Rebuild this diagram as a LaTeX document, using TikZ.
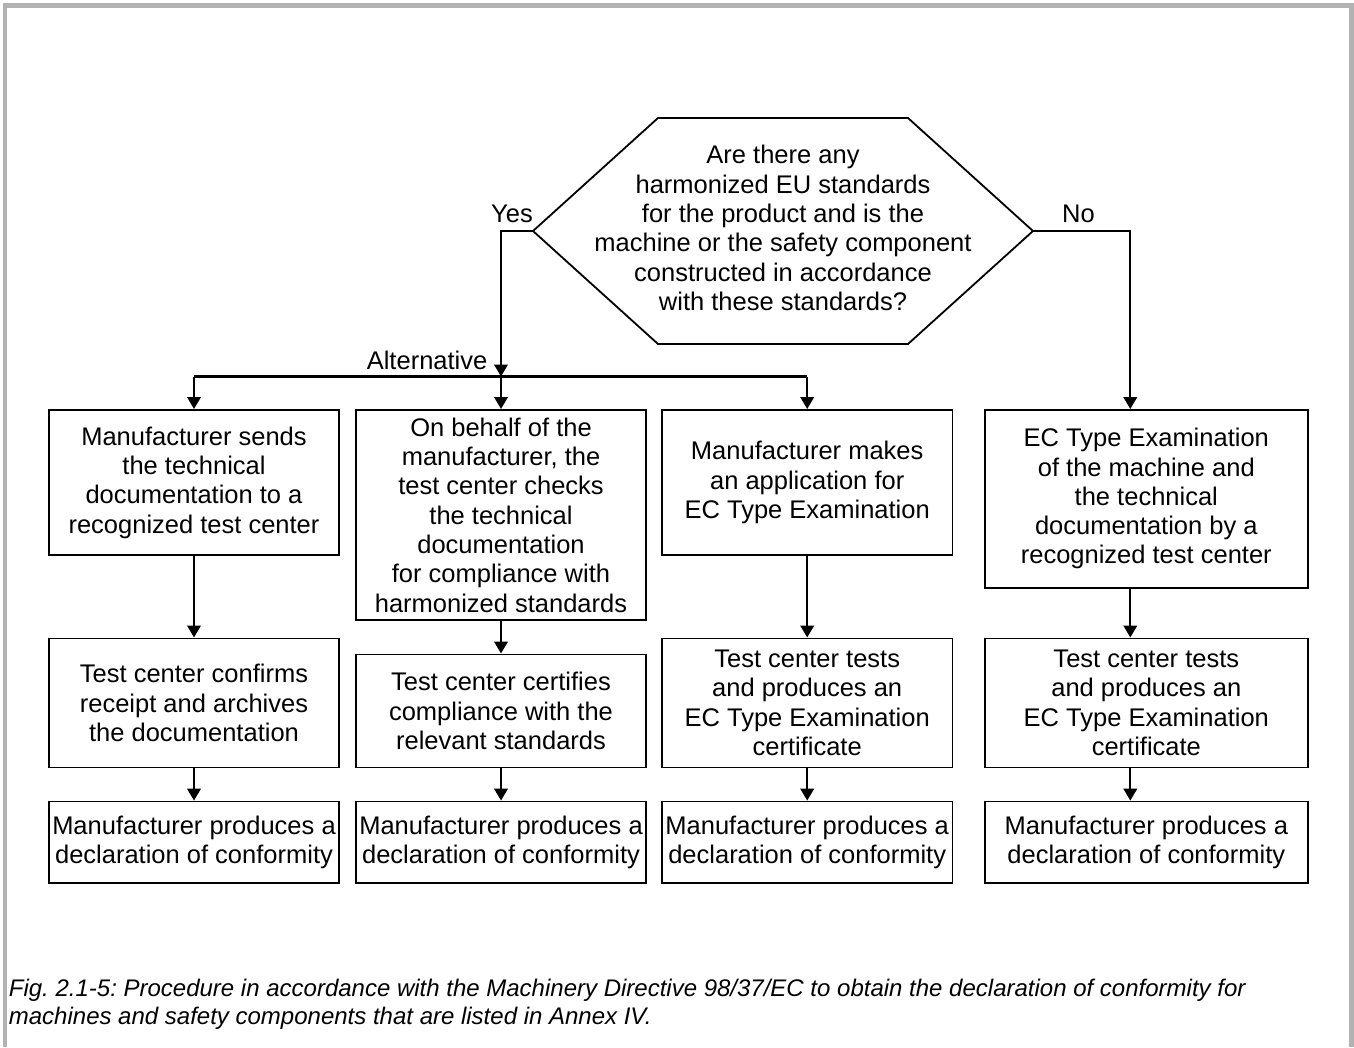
\documentclass[tikz,border=0pt]{standalone}
\usepackage{fontspec}
\setmainfont{Liberation Sans}
\usetikzlibrary{arrows.meta, positioning, calc}
\frenchspacing

\begin{document}
\begin{tikzpicture}[
  x=1pt, y=-1pt,
  >={Triangle[length=12pt,width=13.5pt]},
  txt/.style={
    align=center,
    font=\fontsize{25.5}{29.3}\selectfont
  },
  base/.style={
    txt, rectangle, draw,
    inner sep=2pt,
    line width=1.8pt
  },
  box/.style={base, minimum width=290.6pt},
  wide/.style={base, minimum width=323pt},
  decl/.style={base, minimum height=81.3pt},
  lbl/.style={txt, inner sep=0pt},
  line/.style={line width=2.1pt, black},
  arrow/.style={->, line width=2.3pt, black}
]
\useasboundingbox (0,0) rectangle (1354,1047);

%% Frame
\draw[line width=4.5pt, black!30] (5,1047) -- (5,5.3) -- (1351.7,5.3) -- (1351.7,1047);

%% Question
\node[lbl] (q) at (783,228) {%
  Are there any\\
  harmonized EU standards\\
  for the product and is the\\
  machine or the safety component\\
  constructed in accordance\\
  with these standards?
};
\draw[line, line width=1.8pt] (q.center) ++(-125,-110) -- ++(250,0)
  -- ++(125,113) coordinate (qe) -- ++(-125,113) -- ++(-250,0)
  -- ++(-125,-113) coordinate (qw) -- cycle;

%% Row 1
\node[box, anchor=north, minimum height=145.3pt] (s1) at (194,409) {%
  Manufacturer sends\\
  the technical\\
  documentation to a\\
  recognized test center
};
\node[box, anchor=north, minimum height=210.3pt] (s2) at (501,409) {%
  On behalf of the\\
  manufacturer, the\\
  test center checks\\
  the technical\\
  documentation\\
  for compliance with\\
  harmonized standards
};
\node[box, anchor=north, minimum height=145.3pt] (s3) at (807.2,409) {%
  Manufacturer makes\\
  an application for\\
  EC Type Examination
};
\node[wide, anchor=north, minimum height=177.7pt] (s4) at (1146.3,409) {%
  EC Type Examination\\
  of the machine and\\
  the technical\\
  documentation by a\\
  recognized test center
};

%% Row 2
\node[box, minimum height=129pt, below=81.4pt of s1] (t1) {%
  Test center confirms\\
  receipt and archives\\
  the documentation
};
\node[box, minimum height=113pt, below=32.4pt of s2] (t2) {%
  Test center certifies\\
  compliance with the\\
  relevant standards
};
\node[box, minimum height=129pt, below=81.4pt of s3] (t3) {%
  Test center tests\\
  and produces an\\
  EC Type Examination\\
  certificate
};
\node[wide, minimum height=129pt, below=49pt of s4] (t4) {%
  Test center tests\\
  and produces an\\
  EC Type Examination\\
  certificate
};

%% Row 3
\node[box, decl, below=32.3pt of t1] (m1) {Manufacturer produces a\\declaration of conformity};
\node[box, decl, below=32.3pt of t2] (m2) {Manufacturer produces a\\declaration of conformity};
\node[box, decl, below=32.3pt of t3] (m3) {Manufacturer produces a\\declaration of conformity};
\node[wide, decl, below=32.3pt of t4] (m4) {Manufacturer produces a\\declaration of conformity};

%% --- Arrows ---
\coordinate (bus) at (0,376.5);
\path (s2.north |- bus) coordinate (split);

\draw[arrow] (qw) -| (split);
\draw[line] (s1.north |- bus) -- (s3.north |- bus);
\foreach \n in {s1,s2,s3}
  \draw[arrow] (\n.north |- bus) -- (\n.north);

\draw[arrow] (qe) -| ([xshift=-16pt]s4.north);

\foreach \a/\b in {s1/t1, s2/t2, s3/t3, t1/m1, t2/m2, t3/m3}
  \draw[arrow] (\a) -- (\b);
\draw[arrow] ([xshift=-16pt]s4.south) -- ([xshift=-16pt]t4.north);
\draw[arrow] ([xshift=-16pt]t4.south) -- ([xshift=-16pt]m4.north);

%% Labels
\node[lbl, anchor=base east] (yes) at ([yshift=9pt]qw) {Yes};
\node[lbl, anchor=base west] (no) at ([xshift=29pt,yshift=9pt]qe) {No};
\node[lbl, anchor=base east] (alt) at ([xshift=-13.5pt,yshift=7.5pt]split) {Alternative};

%% Caption
\node[anchor=north west, inner sep=0pt, align=left,
      font=\fontsize{24}{27.5}\selectfont\itshape] (cap) at (8.7,979) {%
  Fig. 2.1-5: Procedure in accordance with the Machinery Directive 98/37/EC to obtain the declaration of conformity for\\
  machines and safety components that are listed in Annex IV.
};

\end{tikzpicture}
\end{document}
